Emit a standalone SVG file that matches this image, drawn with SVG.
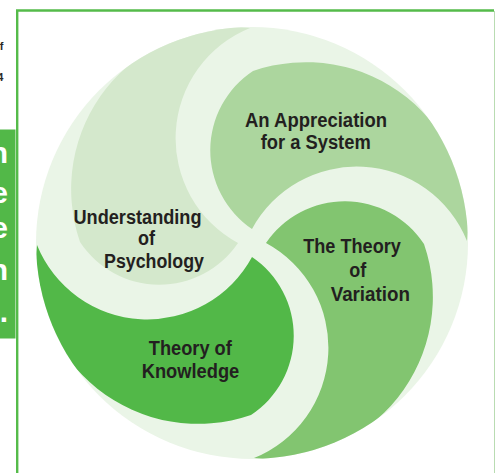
<svg xmlns="http://www.w3.org/2000/svg" width="496" height="473" viewBox="0 0 496 473">
<style>
.lbl{font-family:"Liberation Sans",Arial,sans-serif;font-weight:bold;font-size:20px;fill:#231f20;text-anchor:middle}
.side{font-family:"Liberation Sans",Arial,sans-serif;font-weight:bold;font-size:30px;fill:#ffffff;text-anchor:end}
.tiny{font-family:"Liberation Sans",Arial,sans-serif;font-weight:bold;font-size:11px;fill:#2a2a2a;text-anchor:end}
</style>
<defs>
<clipPath id="disc"><circle cx="252" cy="243" r="216"/></clipPath>
<path id="petal" d="M250 28 A162 162 0 0 0 80 242 A95 95 0 0 0 238 243 A119 119 0 0 1 250 28 Z"/>
</defs>
<rect width="496" height="473" fill="#ffffff"/>
<g id="frame">
<line x1="17.2" y1="10.5" x2="17.2" y2="473" stroke="#55bb4a" stroke-width="2.4"/>
<line x1="16" y1="10.5" x2="494" y2="10.5" stroke="#55bb4a" stroke-width="2.4"/>
<line x1="494.5" y1="11" x2="494.5" y2="473" stroke="#b9dcb2" stroke-width="1"/>
<rect x="0" y="129.5" width="15.5" height="209" fill="#52b848"/>
<text class="side" x="8" y="163">n</text>
<text class="side" x="8" y="203">e</text>
<text class="side" x="8" y="238">e</text>
<text class="side" x="8" y="280">n</text>
<text class="side" x="8" y="322">.</text>
<text class="tiny" x="3.5" y="50">f</text>
<text class="tiny" x="3.3" y="81">4</text>
</g>
<g id="disc-bg"><circle cx="252" cy="243" r="216" fill="#eaf5e7"/></g>
<g clip-path="url(#disc)">
<g id="psychology">
<use href="#petal" fill="#d4e8cc"/>
<text class="lbl" x="137.5" y="224" textLength="128" lengthAdjust="spacingAndGlyphs">Understanding</text>
<text class="lbl" x="146.5" y="244.5" textLength="17" lengthAdjust="spacingAndGlyphs">of</text>
<text class="lbl" x="154" y="268" textLength="100" lengthAdjust="spacingAndGlyphs">Psychology</text>
</g>
<g id="appreciation">
<use href="#petal" fill="#acd69e" transform="rotate(90 252 243)"/>
<text class="lbl" x="316" y="126.5" textLength="142" lengthAdjust="spacingAndGlyphs">An Appreciation</text>
<text class="lbl" x="315.7" y="149.3" textLength="110" lengthAdjust="spacingAndGlyphs">for a System</text>
</g>
<g id="variation">
<use href="#petal" fill="#82c570" transform="rotate(180 252 243)"/>
<text class="lbl" x="352" y="253.3" textLength="97.7" lengthAdjust="spacingAndGlyphs">The Theory</text>
<text class="lbl" x="357.7" y="276.7" textLength="17" lengthAdjust="spacingAndGlyphs">of</text>
<text class="lbl" x="370.3" y="301" textLength="79.3" lengthAdjust="spacingAndGlyphs">Variation</text>
</g>
<g id="knowledge">
<use href="#petal" fill="#52b848" transform="rotate(270 252 243)"/>
<text class="lbl" x="190.3" y="355" textLength="83" lengthAdjust="spacingAndGlyphs">Theory of</text>
<text class="lbl" x="190.5" y="378.3" textLength="97.6" lengthAdjust="spacingAndGlyphs">Knowledge</text>
</g>
</g>
<g id="connectors"/>
</svg>
